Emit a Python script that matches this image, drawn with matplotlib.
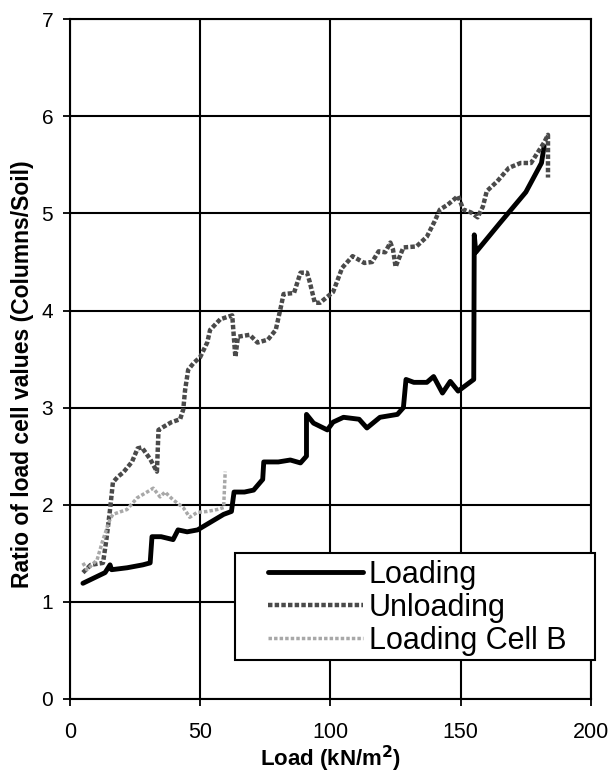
import matplotlib
matplotlib.use("Agg")
import matplotlib.pyplot as plt
from matplotlib.patches import Rectangle

plt.rcParams['font.family'] = ['Liberation Sans', 'DejaVu Sans']

# Loading (solid black)
load_x = [5, 13.5, 15.4, 16, 22, 28, 30.8, 31.5, 35, 39.6, 41.5, 45, 49, 54, 59, 62, 63, 67,
          70.5, 74, 74.4, 80, 84.6, 88.5, 90.8, 90.8, 93.5, 98.8, 101, 105, 111, 114, 119,
          125.7, 128, 129, 132, 137, 139.6, 143, 146, 149, 155, 155.2, 155.8, 165, 175, 181, 182]
load_y = [1.19, 1.30, 1.38, 1.33, 1.35, 1.38, 1.40, 1.67, 1.67, 1.64, 1.74, 1.72, 1.74, 1.82,
          1.90, 1.93, 2.13, 2.13, 2.15, 2.26, 2.44, 2.44, 2.46, 2.43, 2.50, 2.93, 2.84, 2.77,
          2.85, 2.90, 2.88, 2.79, 2.90, 2.93, 3.00, 3.29, 3.26, 3.26, 3.32, 3.15, 3.27, 3.17,
          3.29, 4.78, 4.60, 4.90, 5.22, 5.52, 5.69]

# Unloading (dark dotted)
unload_x = [5, 8, 12.7, 14, 15.4, 16.5, 18.5, 20.4, 23.8, 26, 27.6, 30.8, 33.4, 34, 35.8, 39,
            42.3, 43.5, 44.2, 45.4, 47.5, 50, 52.7, 53.8, 57.7, 62.3, 63.5, 64.5, 69, 72, 76,
            79, 81, 82, 86, 88.5, 91, 92, 94, 96, 101, 104.5, 108.5, 113, 116, 118.5, 121,
            123, 124, 125, 128, 133, 137, 140, 142, 145, 149, 151, 154, 156.5, 158.5, 160,
            164, 168.5, 173, 177, 179.6, 182, 183.5, 183.5]
unload_y = [1.30, 1.38, 1.40, 1.64, 1.95, 2.23, 2.29, 2.33, 2.44, 2.58, 2.59, 2.47, 2.34, 2.77,
            2.80, 2.85, 2.88, 2.98, 3.18, 3.39, 3.46, 3.52, 3.67, 3.80, 3.91, 3.95, 3.52, 3.73,
            3.75, 3.67, 3.70, 3.80, 4.04, 4.17, 4.18, 4.39, 4.39, 4.30, 4.08, 4.08, 4.19, 4.44,
            4.56, 4.49, 4.50, 4.61, 4.60, 4.70, 4.63, 4.45, 4.65, 4.66, 4.76, 4.92, 5.04, 5.09,
            5.18, 5.04, 5.01, 4.96, 5.07, 5.23, 5.33, 5.47, 5.52, 5.52, 5.63, 5.73, 5.81, 5.37]

# Loading Cell B (light dotted)
cellb_x = [5, 6.5, 10.4, 12.7, 15.4, 16.5, 21.9, 25.8, 29.6, 32, 34.6, 36.5, 39.6, 43.5, 46,
           48.8, 52.7, 56.5, 59, 59.6]
cellb_y = [1.40, 1.33, 1.43, 1.64, 1.85, 1.90, 1.95, 2.07, 2.13, 2.17, 2.08, 2.13, 2.05, 1.97,
           1.87, 1.92, 1.93, 1.95, 1.97, 2.34]

fig = plt.figure(figsize=(6.08, 7.73), dpi=100)
ax = fig.add_axes([0.115, 0.096, 0.857, 0.879])

ax.plot(load_x, load_y, color='black', lw=3.5, label='Loading', solid_joinstyle='round',
        solid_capstyle='round')
ax.plot(unload_x, unload_y, color='#4a4a4a', lw=3.2, ls=(0, (1.0, 0.5)), label='Unloading')
ax.plot(cellb_x, cellb_y, color='#a8a8a8', lw=2.5, ls=(0, (1.0, 0.6)), label='Loading Cell B')

ax.set_xlim(0, 200)
ax.set_ylim(0, 7)
ax.set_xticks([0, 50, 100, 150, 200])
ax.set_yticks(range(0, 8))
ax.grid(True, color='black', lw=1.5)
ax.set_axisbelow(True)
for s in ax.spines.values():
    s.set_linewidth(1.5)
ax.tick_params(axis='x', labelsize=15.5, direction='out', length=5, width=1.3, pad=12)
ax.tick_params(axis='y', labelsize=15, direction='out', length=5, width=1.3, pad=7)

ax.set_xlabel('Load (kN/m$^\\mathbf{2}$)', fontsize=16, fontweight='bold', labelpad=0)
ax.set_ylabel('Ratio of load cell values (Columns/Soil)', fontsize=16.5, fontweight='bold')
ax.yaxis.set_label_coords(-0.068, 0.478)

# legend box drawn by hand so the left padding matches
box = Rectangle((0.317, 0.057), 0.691, 0.158, transform=ax.transAxes, fill=True,
                facecolor='white', edgecolor='black', lw=1.5, clip_on=False, zorder=5)
ax.add_patch(box)
leg = ax.legend(loc='upper left', bbox_to_anchor=(0.38, 0.205), fontsize=22, labelspacing=0.1,
                handlelength=3.1, handletextpad=0.2, borderpad=0, borderaxespad=0,
                frameon=False)
leg.set_zorder(6)

fig.savefig('out.png', dpi=100)
